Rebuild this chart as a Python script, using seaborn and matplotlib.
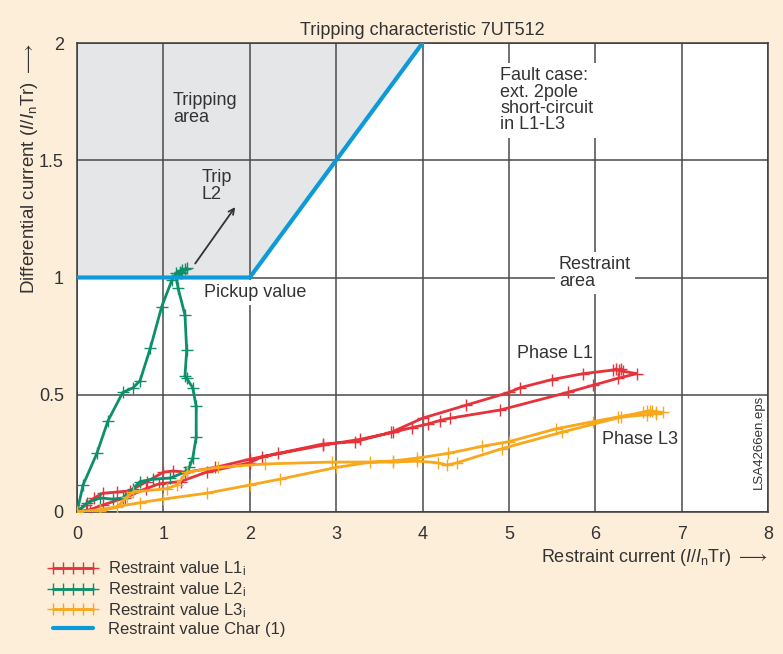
import matplotlib
matplotlib.use("Agg")
import matplotlib.pyplot as plt
import seaborn as sns

# restraint / differential current traces
l1_x = [0, 0.1, 0.2, 0.3, 0.46, 0.61, 0.81, 1.0, 1.11, 1.27, 1.6, 2.0, 2.33, 2.85, 3.22, 3.64, 4.0, 4.5,
        5.0, 5.13, 5.5, 5.86, 6.2, 6.24, 6.27, 6.3, 6.32, 6.48,
        6.26, 5.97, 5.68, 4.9, 4.32, 4.2, 4.06, 3.88, 3.66, 3.28, 2.85, 2.14, 2.0, 1.5, 1.2, 0.95, 0.8,
        0.55, 0.3, 0.15, 0]
l1_y = [0, 0.03, 0.06, 0.08, 0.085, 0.09, 0.13, 0.17, 0.175, 0.17, 0.19, 0.225, 0.25, 0.29, 0.30, 0.34, 0.40, 0.455,
        0.51, 0.53, 0.565, 0.59, 0.605, 0.61, 0.605, 0.61, 0.60, 0.59,
        0.57, 0.54, 0.51, 0.435, 0.40, 0.39, 0.375, 0.36, 0.34, 0.31, 0.285, 0.235, 0.21, 0.17, 0.13, 0.12, 0.10,
        0.06, 0.03, 0.01, 0]

l2_x = [0, 0.07, 0.23, 0.36, 0.53, 0.65, 0.73, 0.85, 0.98, 1.10, 1.15, 1.19, 1.22, 1.25, 1.27, 1.20, 1.15,
        1.17, 1.25, 1.27, 1.25, 1.27, 1.34, 1.38, 1.38, 1.34, 1.30, 1.25, 1.08, 0.88, 0.73, 0.65, 0.53,
        0.42, 0.27, 0.12, 0]
l2_y = [0, 0.115, 0.25, 0.39, 0.51, 0.53, 0.56, 0.70, 0.875, 0.99, 1.02, 1.025, 1.03, 1.035, 1.04, 1.02, 1.0,
        0.955, 0.84, 0.69, 0.58, 0.57, 0.53, 0.45, 0.32, 0.23, 0.19, 0.17, 0.145, 0.14, 0.13, 0.10, 0.06,
        0.055, 0.06, 0.04, 0]

l3_x = [0, 0.27, 0.73, 1.0, 1.5, 2.0, 2.35, 3.0, 3.39, 3.66, 3.94, 4.3, 4.69, 5.0, 5.55, 5.97, 6.26, 6.55,
        6.6, 6.63, 6.66, 6.7, 6.78,
        6.7, 6.6, 6.3, 5.61, 4.92, 4.4, 4.28, 4.18, 3.94, 3.66, 2.95, 2.18, 1.63, 1.27, 1.16, 1.04, 0.65,
        0.58, 0.46, 0.27, 0]
l3_y = [0, 0.01, 0.04, 0.055, 0.08, 0.115, 0.14, 0.19, 0.212, 0.218, 0.23, 0.25, 0.28, 0.30, 0.355, 0.385, 0.405, 0.425,
        0.43, 0.432, 0.43, 0.428, 0.425,
        0.42, 0.415, 0.405, 0.34, 0.27, 0.21, 0.20, 0.21, 0.217, 0.213, 0.213, 0.205, 0.19, 0.17, 0.115, 0.10, 0.085,
        0.065, 0.02, 0.005, 0]

# tripping characteristic
char_x = [0, 2, 4]
char_y = [1, 1, 2]

x_ticks = [0, 1, 2, 3, 4, 5, 6, 7, 8]
y_ticks = [0, 0.5, 1, 1.5, 2]
y_tick_labels = ["0", "0.5", "1", "1.5", "2"]

RED = "#e8323a"
GREEN = "#0d8f6c"
ORANGE = "#f8a81c"
BLUE = "#0d9ad8"
BG = "#fdeeda"
TXT = "#333333"

sns.set_style("white")
plt.rcParams["font.family"] = ["Liberation Sans", "DejaVu Sans"]
plt.rcParams["mathtext.fontset"] = "custom"
plt.rcParams["mathtext.it"] = "Liberation Sans:italic"
plt.rcParams["mathtext.rm"] = "Liberation Sans"

fig = plt.figure(figsize=(7.83, 6.54), dpi=100, facecolor=BG)
ax = fig.add_axes([77 / 783, 1 - 512 / 654, (768 - 77) / 783, (512 - 43) / 654])
ax.set_facecolor("white")

# tripping area
ax.fill([0, 2, 4, 0], [1, 1, 2, 2], color="#e5e6e8", zorder=0, lw=0)

ax.set_xlim(0, 8)
ax.set_ylim(0, 2)
ax.set_xticks(x_ticks)
ax.set_yticks(y_ticks)
ax.set_yticklabels(y_tick_labels)
ax.grid(True, color="#4a4a4a", lw=1.1, zorder=1)
ax.set_axisbelow(True)
for s in ax.spines.values():
    s.set_color("#3a3a3a")
    s.set_linewidth(1.1)
ax.tick_params(axis="both", labelsize=13, colors=TXT, length=6, width=1, direction="out")
ax.tick_params(axis="x", pad=4)


def trace(x, y, color, label, lw=2, markers=True):
    kw = dict(marker="+", markersize=9, markeredgewidth=1.0, markeredgecolor=color) if markers else {}
    sns.lineplot(x=x, y=y, sort=False, estimator=None, color=color, lw=lw,
                 label=label, ax=ax, zorder=5, **kw)


trace(l1_x, l1_y, RED, "Restraint value L1$_\\mathrm{i}$")
trace(l2_x, l2_y, GREEN, "Restraint value L2$_\\mathrm{i}$")
trace(l3_x, l3_y, ORANGE, "Restraint value L3$_\\mathrm{i}$")
trace(char_x, char_y, BLUE, "Restraint value Char (1)", lw=3, markers=False)

handles, labels = ax.get_legend_handles_labels()
ax.get_legend().remove()
fig.legend(handles, labels, loc="upper left", bbox_to_anchor=(46 / 783, 1 - 558 / 654),
           frameon=False, fontsize=12, numpoints=5, handlelength=3.0, handletextpad=0.6,
           labelspacing=0.12, labelcolor=TXT, borderaxespad=0, borderpad=0.1)

ax.set_title("Tripping characteristic 7UT512", fontsize=13, color=TXT, pad=6)
ax.set_ylabel(r"Differential current ($\mathit{I/I}_\mathrm{n}$Tr) $\longrightarrow$",
              fontsize=13.5, color=TXT, loc="top")
ax.yaxis.set_label_coords(-0.054, 1.0)
ax.set_xlabel("")
ax.text(1.0, -0.075, r"Restraint current ($\mathit{I/I}_\mathrm{n}$Tr) $\longrightarrow$",
        transform=ax.transAxes, ha="right", va="top", fontsize=13, color=TXT)

# annotations
grey_box = dict(facecolor="#e5e6e8", edgecolor="none", pad=2)
white_box = dict(facecolor="white", edgecolor="none", pad=3)
ax.text(1.11, 1.72, "Tripping\narea", fontsize=13, color=TXT, va="center", ha="left",
        linespacing=1.0, bbox=grey_box, zorder=3)
ax.text(1.44, 1.39, "Trip\nL2", fontsize=13, color=TXT, va="center", ha="left",
        linespacing=1.0, bbox=grey_box, zorder=3)
ax.text(1.47, 0.935, "Pickup value", fontsize=13, color=TXT, va="center", ha="left",
        bbox=white_box, zorder=3)
ax.text(4.9, 1.755, "Fault case:\next. 2pole\nshort-circuit\nin L1-L3", fontsize=13, color=TXT,
        va="center", ha="left", linespacing=0.95, bbox=white_box, zorder=3)
ax.text(5.58, 1.02, "Restraint\narea", fontsize=13, color=TXT, va="center", ha="left",
        linespacing=1.0, bbox=white_box, zorder=3)
ax.text(5.09, 0.675, "Phase L1", fontsize=13, color=TXT, va="center", ha="left", zorder=3)
ax.text(6.08, 0.31, "Phase L3", fontsize=13, color=TXT, va="center", ha="left", zorder=3)
ax.text(7.9, 0.30, "LSA4266en.eps", fontsize=9.5, color=TXT, rotation=90, va="center", ha="center",
        zorder=3)
ax.annotate("", xy=(1.85, 1.31), xytext=(1.35, 1.05),
            arrowprops=dict(arrowstyle="->", color=TXT, lw=1.3), zorder=3)

fig.savefig("out.png", dpi=100, facecolor=BG)
